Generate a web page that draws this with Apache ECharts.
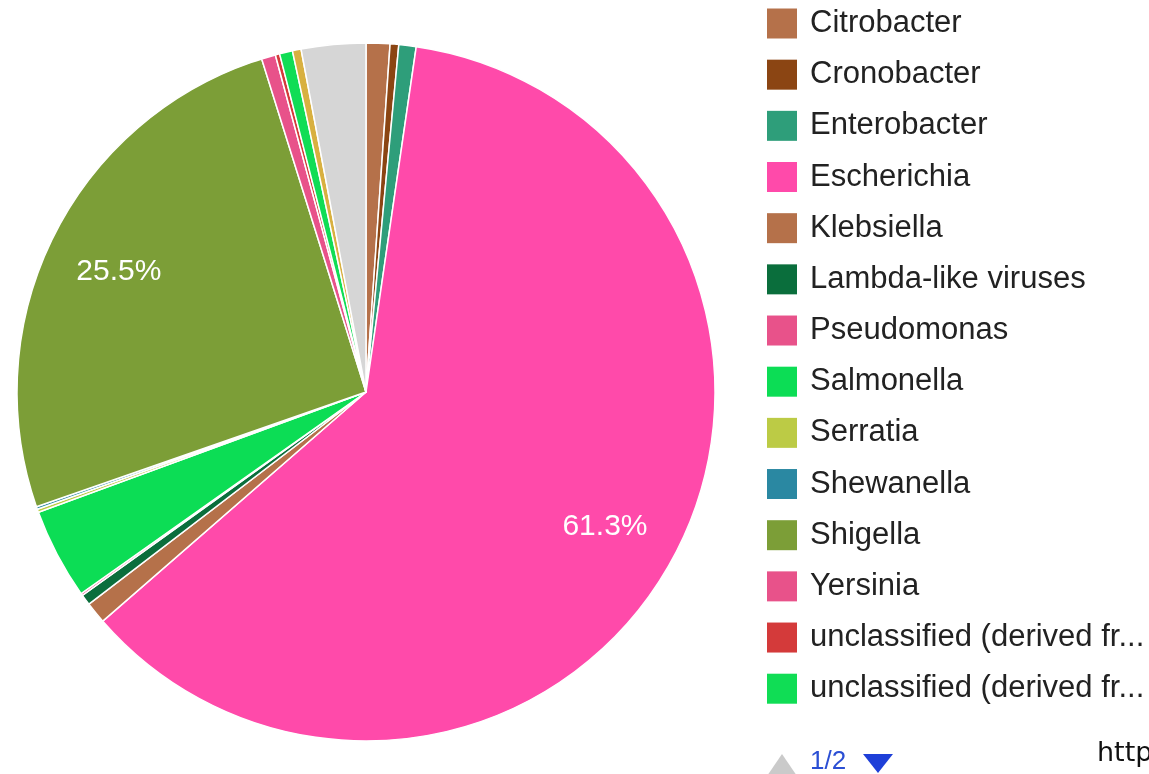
<!DOCTYPE html>
<html>
<head>
<meta charset="utf-8">
<script src="https://cdn.jsdelivr.net/npm/echarts@6/dist/echarts.min.js"></script>
<style>
  html, body { margin: 0; padding: 0; background: #ffffff; }
  #chart { width: 1149px; height: 774px; }
</style>
</head>
<body>
<div id="chart"></div>
<script>
// Slices in drawing order (clockwise from 12 o'clock), values in percent
const categories = [
  'Citrobacter', 'Cronobacter', 'Enterobacter', 'Escherichia', 'Klebsiella',
  'Lambda-like viruses', 'Pseudomonas', 'Salmonella', 'Serratia', 'Shewanella',
  'Shigella', 'Yersinia',
  'unclassified (derived from Enterobacteria phage)',
  'unclassified (derived from Salmonella phage)',
  'unclassified (derived from Escherichia phage)',
  'Other'
];
const values = [
  1.1, 0.4, 0.8, 61.3, 1.0,
  0.5, 0.1, 4.2, 0.15, 0.12,
  25.5, 0.65,
  0.2,
  0.6,
  0.4,
  2.98
];
const colors = [
  '#B5714A', '#8B4513', '#2E9E7A', '#FF4AAA', '#B5714A',
  '#0A6E3C', '#E8528A', '#0CDD55', '#BCCB45', '#2A88A2',
  '#7C9E37', '#E8528A',
  '#D43A3A',
  '#10DD55',
  '#D8B040',
  '#D6D6D6'
];
const labeledSlices = ['Escherichia', 'Shigella'];
// Legend is paged: first page shows these many entries
const legendPageSize = 14;
const legendPageText = '1/2';

const chart = echarts.init(document.getElementById('chart'), null, { renderer: 'canvas' });

const mainData = categories.map((name, i) => ({
  name: name,
  value: values[i],
  itemStyle: { color: colors[i] }
}));

const labelData = categories.map((name, i) => ({
  name: name,
  value: values[i],
  itemStyle: { color: 'rgba(0,0,0,0)', borderWidth: 0 },
  label: { show: labeledSlices.indexOf(name) >= 0 }
}));

const R = 349;
const FONT = 'Liberation Sans, Arial, sans-serif';

chart.setOption({
  animation: false,
  backgroundColor: '#ffffff',
  title: {
    text: 'https://',
    left: 1097,
    top: 740,
    padding: 0,
    textStyle: {
      fontFamily: 'DejaVu Sans',
      fontWeight: 'normal',
      fontSize: 27,
      color: '#111111'
    }
  },
  legend: {
    type: 'plain',
    orient: 'vertical',
    left: 767,
    top: 8,
    padding: 0,
    itemWidth: 30,
    itemHeight: 30,
    itemGap: 20.17,
    icon: 'rect',
    data: categories.slice(0, legendPageSize),
    itemStyle: { borderWidth: 0 },
    textStyle: {
      fontFamily: FONT,
      fontSize: 31,
      color: '#222222',
      padding: [0, 0, 0, 8],
      width: 345,
      overflow: 'truncate',
      ellipsis: '...'
    }
  },
  graphic: [
    {
      type: 'polygon',
      silent: true,
      shape: { points: [[782, 754], [799, 779], [765, 779]] },
      style: { fill: '#CACACA' }
    },
    {
      type: 'text',
      silent: true,
      x: 810,
      y: 762,
      style: {
        text: legendPageText,
        font: '26px ' + FONT,
        fill: '#2B4FD4',
        textAlign: 'left',
        textVerticalAlign: 'middle'
      }
    },
    {
      type: 'polygon',
      silent: true,
      shape: { points: [[863, 754], [893, 754], [878, 773]] },
      style: { fill: '#1E3FD8' }
    }
  ],
  series: [
    {
      type: 'pie',
      center: [366, 392],
      radius: [0, R],
      startAngle: 90,
      clockwise: true,
      avoidLabelOverlap: false,
      label: { show: false },
      labelLine: { show: false },
      emphasis: { disabled: true },
      itemStyle: { borderColor: '#ffffff', borderWidth: 1.5 },
      data: mainData
    },
    {
      type: 'pie',
      center: [366, 392],
      radius: [Math.round(R * 0.556), R],
      startAngle: 90,
      clockwise: true,
      silent: true,
      avoidLabelOverlap: false,
      percentPrecision: 1,
      label: {
        position: 'inside',
        formatter: '{d}%',
        color: '#ffffff',
        fontSize: 30,
        fontFamily: FONT,
        fontWeight: 'normal',
        offset: [-2, 3]
      },
      labelLine: { show: false },
      emphasis: { disabled: true },
      data: labelData
    }
  ]
});
</script>
</body>
</html>
